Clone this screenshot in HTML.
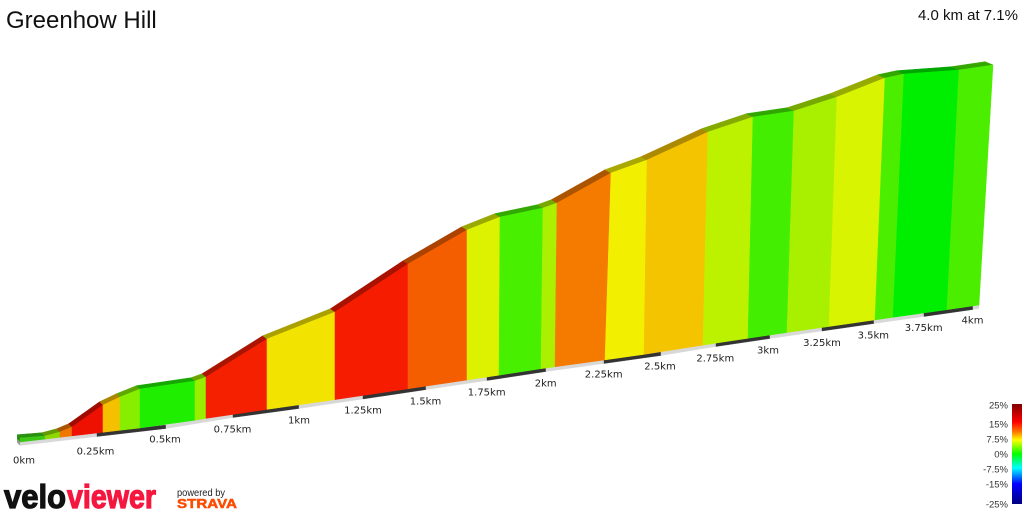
<!DOCTYPE html>
<html>
<head>
<meta charset="utf-8">
<style>
html,body{margin:0;padding:0;background:#fff;}
body{width:1024px;height:512px;overflow:hidden;}
svg{display:block;}
</style>
</head>
<body>
<svg width="1024" height="512" viewBox="0 0 1024 512" xmlns="http://www.w3.org/2000/svg">
<defs>
<linearGradient id="jet" x1="0" y1="0" x2="0" y2="1">
<stop offset="0" stop-color="#800000"/>
<stop offset="0.18" stop-color="#ff0000"/>
<stop offset="0.28" stop-color="#ff7a00"/>
<stop offset="0.36" stop-color="#ffff00"/>
<stop offset="0.5" stop-color="#00ff00"/>
<stop offset="0.64" stop-color="#00ffff"/>
<stop offset="0.8" stop-color="#0000ff"/>
<stop offset="1" stop-color="#000080"/>
</linearGradient>
</defs>

<!-- title -->
<text x="6" y="28" font-family="Liberation Sans, Arial, sans-serif" font-size="24" fill="#111">Greenhow Hill</text>
<text x="1018" y="20" text-anchor="end" font-family="Liberation Sans, Arial, sans-serif" font-size="15" fill="#111">4.0 km at 7.1%</text>

<!-- base band -->
<g stroke-width="0.4">
<polygon points="20,442 97,433 97,436.5 20,445.5" fill="#d8d8d8" stroke="#d8d8d8"/>
<polygon points="97,433 166,425 166,428.5 97,436.5" fill="#333" stroke="#333"/>
<polygon points="166,425 233,414 233,417.5 166,428.5" fill="#d8d8d8" stroke="#d8d8d8"/>
<polygon points="233,414 299,405 299,408.5 233,417.5" fill="#333" stroke="#333"/>
<polygon points="299,405 363,395.5 363,399 299,408.5" fill="#d8d8d8" stroke="#d8d8d8"/>
<polygon points="363,395.5 426,386.1 426,389.6 363,399" fill="#333" stroke="#333"/>
<polygon points="426,386.1 487,377 487,380.5 426,389.6" fill="#d8d8d8" stroke="#d8d8d8"/>
<polygon points="487,377 546,368 546,371.5 487,380.5" fill="#333" stroke="#333"/>
<polygon points="546,368 604,360 604,363.5 546,371.5" fill="#d8d8d8" stroke="#d8d8d8"/>
<polygon points="604,360 661,352 661,355.5 604,363.5" fill="#333" stroke="#333"/>
<polygon points="661,352 716,343 716,346.5 661,355.5" fill="#d8d8d8" stroke="#d8d8d8"/>
<polygon points="716,343 770,335 770,338.5 716,346.5" fill="#333" stroke="#333"/>
<polygon points="770,335 822,327.5 822,331 770,338.5" fill="#d8d8d8" stroke="#d8d8d8"/>
<polygon points="822,327.5 874,320 874,323.5 822,331" fill="#333" stroke="#333"/>
<polygon points="874,320 924,313 924,316.5 874,323.5" fill="#d8d8d8" stroke="#d8d8d8"/>
<polygon points="924,313 973,306 973,309.5 924,316.5" fill="#333" stroke="#333"/>
<polygon points="973,306 979,305 979,308.5 973,309.5" fill="#d8d8d8" stroke="#d8d8d8"/>
</g>
<!-- left side of box -->
<polygon points="17,439 20,442 20,445.5 17,442.5" fill="#999"/>
<polygon points="17,434.7 20,438 20,442 17,439" fill="#2a9010"/>

<!-- strips (road surface) -->
<g stroke-width="0.5">
<polygon points="20,438 45,436 41.9,432.7 17,434.7" fill="#2a9010" stroke="#2a9010"/>
<polygon points="45,436 60,432 56.8,428.7 41.9,432.7" fill="#649a00" stroke="#649a00"/>
<polygon points="60,432 72,427 68.7,423.7 56.8,428.7" fill="#a85400" stroke="#a85400"/>
<polygon points="72,427 103,405 99.6,401.7 68.7,423.7" fill="#a00a00" stroke="#a00a00"/>
<polygon points="103,405 120,397 116.5,393.7 99.6,401.7" fill="#ac8600" stroke="#ac8600"/>
<polygon points="120,397 140,389 136.4,385.7 116.5,393.7" fill="#5ea600" stroke="#5ea600"/>
<polygon points="140,389 195,381 191.1,377.7 136.4,385.7" fill="#16a800" stroke="#16a800"/>
<polygon points="195,381 206,377 202.1,373.7 191.1,377.7" fill="#6aa600" stroke="#6aa600"/>
<polygon points="206,377 267,339 262.8,335.7 202.1,373.7" fill="#aa1400" stroke="#aa1400"/>
<polygon points="267,339 335,312 330.4,308.7 262.8,335.7" fill="#aaa000" stroke="#aaa000"/>
<polygon points="335,312 408,264 403.1,260.7 330.4,308.7" fill="#aa1200" stroke="#aa1200"/>
<polygon points="408,264 467,230 461.8,226.7 403.1,260.7" fill="#ab4200" stroke="#ab4200"/>
<polygon points="467,230 500,217 494.6,213.7 461.8,226.7" fill="#9aa800" stroke="#9aa800"/>
<polygon points="500,217 543,208 537.4,204.7 494.6,213.7" fill="#32a800" stroke="#32a800"/>
<polygon points="543,208 557,203 551.3,199.7 537.4,204.7" fill="#76a800" stroke="#76a800"/>
<polygon points="557,203 611,173 605,169.7 551.3,199.7" fill="#ab5500" stroke="#ab5500"/>
<polygon points="611,173 647,160 640.9,156.7 605,169.7" fill="#a9a800" stroke="#a9a800"/>
<polygon points="647,160 708,132 701.6,128.7 640.9,156.7" fill="#ab8900" stroke="#ab8900"/>
<polygon points="708,132 753,117 746.3,113.7 701.6,128.7" fill="#84a900" stroke="#84a900"/>
<polygon points="753,117 794,111 787.1,107.7 746.3,113.7" fill="#30a600" stroke="#30a600"/>
<polygon points="794,111 837,97 829.9,93.7 787.1,107.7" fill="#76a800" stroke="#76a800"/>
<polygon points="837,97 885,78 877.7,74.7 829.9,93.7" fill="#97aa00" stroke="#97aa00"/>
<polygon points="885,78 904,74 896.6,70.7 877.7,74.7" fill="#35a600" stroke="#35a600"/>
<polygon points="904,74 959,70 951.3,66.7 896.6,70.7" fill="#00a600" stroke="#00a600"/>
<polygon points="959,70 993,65 985.1,61.7 951.3,66.7" fill="#35a600" stroke="#35a600"/>
</g>

<!-- front faces -->
<g stroke-width="0.5">
<polygon points="20,438 45,436 45,439.1 20,442" fill="#3cc814" stroke="#3cc814"/>
<polygon points="45,436 60,432 60,437.3 45,439.1" fill="#8cd800" stroke="#8cd800"/>
<polygon points="60,432 72,427 72,435.9 60,437.3" fill="#f07800" stroke="#f07800"/>
<polygon points="72,427 103,405 103,432.3 72,435.9" fill="#ee1000" stroke="#ee1000"/>
<polygon points="103,405 120,397 120,430.3 103,432.3" fill="#f5c000" stroke="#f5c000"/>
<polygon points="120,397 140,389 140,428 120,430.3" fill="#88ee00" stroke="#88ee00"/>
<polygon points="140,389 195,381 195,420.2 140,428" fill="#20ee00" stroke="#20ee00"/>
<polygon points="195,381 206,377 206,418.4 195,420.2" fill="#99ee00" stroke="#99ee00"/>
<polygon points="206,377 267,339 267,409.4 206,418.4" fill="#f42000" stroke="#f42000"/>
<polygon points="267,339 335,312 335,399.6 267,409.4" fill="#f2e400" stroke="#f2e400"/>
<polygon points="335,312 408,264 408,388.8 335,399.6" fill="#f51c00" stroke="#f51c00"/>
<polygon points="408,264 467,230 467,380 408,388.8" fill="#f55e00" stroke="#f55e00"/>
<polygon points="467,230 500,217 499,375.2 467,380" fill="#ddf200" stroke="#ddf200"/>
<polygon points="500,217 543,208 541,368.7 499,375.2" fill="#48f000" stroke="#48f000"/>
<polygon points="543,208 557,203 555,366.8 541,368.7" fill="#aaf000" stroke="#aaf000"/>
<polygon points="557,203 611,173 605,359.9 555,366.8" fill="#f57a00" stroke="#f57a00"/>
<polygon points="611,173 647,160 644,354.4 605,359.9" fill="#f2f000" stroke="#f2f000"/>
<polygon points="647,160 708,132 703,345.1 644,354.4" fill="#f5c400" stroke="#f5c400"/>
<polygon points="708,132 753,117 748,338.3 703,345.1" fill="#bcf200" stroke="#bcf200"/>
<polygon points="753,117 794,111 787,332.5 748,338.3" fill="#44ee00" stroke="#44ee00"/>
<polygon points="794,111 837,97 829,326.5 787,332.5" fill="#a8f000" stroke="#a8f000"/>
<polygon points="837,97 885,78 875,319.9 829,326.5" fill="#d8f400" stroke="#d8f400"/>
<polygon points="885,78 904,74 893,317.3 875,319.9" fill="#4cee00" stroke="#4cee00"/>
<polygon points="904,74 959,70 947,309.7 893,317.3" fill="#00ee00" stroke="#00ee00"/>
<polygon points="959,70 993,65 979,305 947,309.7" fill="#4cee00" stroke="#4cee00"/>
</g>

<!-- distance labels -->
<g font-family="DejaVu Sans, Verdana, sans-serif" font-size="10" fill="#222" text-anchor="middle">
<text x="24" y="463.6">0km</text>
<text x="95.5" y="454.3">0.25km</text>
<text x="165" y="442.6">0.5km</text>
<text x="232.5" y="432.6">0.75km</text>
<text x="299" y="423.6">1km</text>
<text x="363" y="413.6">1.25km</text>
<text x="425.5" y="404.6">1.5km</text>
<text x="486.7" y="395.6">1.75km</text>
<text x="545.7" y="386.6">2km</text>
<text x="603.7" y="377.6">2.25km</text>
<text x="660" y="369.6">2.5km</text>
<text x="715.3" y="361.6">2.75km</text>
<text x="768" y="353.6">3km</text>
<text x="822" y="346.1">3.25km</text>
<text x="873.3" y="338.6">3.5km</text>
<text x="923.7" y="331.1">3.75km</text>
<text x="972.5" y="323.6">4km</text>
</g>

<!-- legend -->
<rect x="1012" y="404" width="10" height="100" fill="url(#jet)"/>
<g font-family="Liberation Sans, Arial, sans-serif" font-size="9.5" fill="#333" text-anchor="end">
<text x="1008" y="408.4">25%</text>
<text x="1008" y="427.4">15%</text>
<text x="1008" y="442.4">7.5%</text>
<text x="1008" y="457.4">0%</text>
<text x="1008" y="472.4">-7.5%</text>
<text x="1008" y="487.4">-15%</text>
<text x="1008" y="507.4">-25%</text>
</g>

<!-- logo -->
<text x="4" y="508" font-family="Liberation Sans, Arial, sans-serif" font-weight="bold" font-size="33" fill="#111" stroke="#111" stroke-width="1.2" textLength="62" lengthAdjust="spacingAndGlyphs">velo</text>
<text x="67" y="508" font-family="Liberation Sans, Arial, sans-serif" font-weight="bold" font-size="33" fill="#f5173f" stroke="#f5173f" stroke-width="1.2" textLength="89" lengthAdjust="spacingAndGlyphs">viewer</text>
<text x="177" y="496" font-family="Liberation Sans, Arial, sans-serif" font-size="10" fill="#222" textLength="48" lengthAdjust="spacingAndGlyphs">powered by</text>
<text x="177" y="508" font-family="Liberation Sans, Arial, sans-serif" font-weight="bold" font-size="13" fill="#fc4c02" stroke="#fc4c02" stroke-width="0.5" textLength="60" lengthAdjust="spacingAndGlyphs">STRAVA</text>
</svg>
</body>
</html>
